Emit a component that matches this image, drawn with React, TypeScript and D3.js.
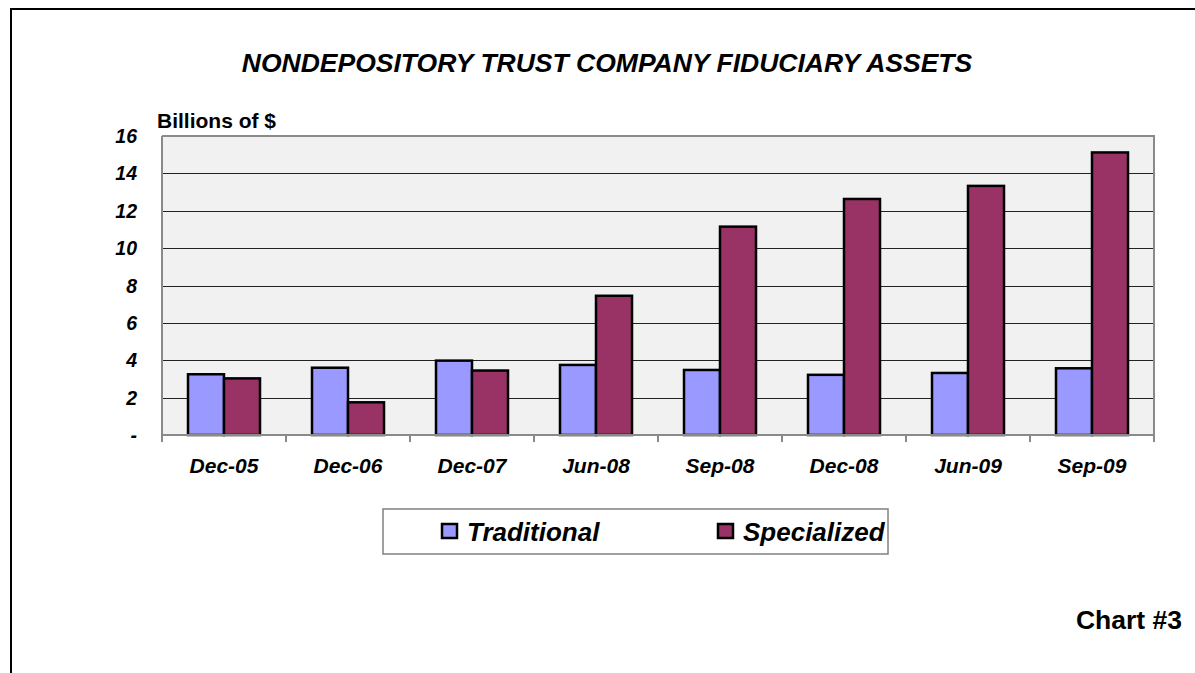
import React from "react";
import * as d3 from "d3";

const categories = ["Dec-05", "Dec-06", "Dec-07", "Jun-08", "Sep-08", "Dec-08", "Jun-09", "Sep-09"];
const traditional = [3.25, 3.6, 3.98, 3.75, 3.48, 3.22, 3.32, 3.57];
const specialized = [3.03, 1.75, 3.45, 7.45, 11.15, 12.63, 13.33, 15.12];
const yTicks = [0, 2, 4, 6, 8, 10, 12, 14, 16];
const seriesNames = ["Traditional", "Specialized"];
const colors = ["#9999FF", "#993366"];

const W = 1195;
const H = 673;
const plot = { left: 162, right: 1154, top: 136, bottom: 435 };
const font = "'Liberation Sans', Arial, sans-serif";

export default function App() {
  const x = d3.scaleBand<string>().domain(categories).range([plot.left, plot.right]).paddingInner(0).paddingOuter(0);
  const y = d3.scaleLinear().domain([0, 16]).range([plot.bottom, plot.top]);
  const barW = 36;
  const series = [traditional, specialized];

  return (
    <svg width={W} height={H} style={{ position: "absolute", left: 0, top: 0, background: "#fff" }} fontFamily={font}>
      <rect x={11} y={9} width={W + 20} height={H + 20} fill="#fff" stroke="#000" strokeWidth={2} />
      <text x={607} y={72} textAnchor="middle" fontSize={26.5} fontWeight="bold" fontStyle="italic">
        NONDEPOSITORY TRUST COMPANY FIDUCIARY ASSETS
      </text>
      <text x={157} y={128} fontSize={21} fontWeight="bold">Billions of $</text>
      <rect x={plot.left} y={plot.top} width={plot.right - plot.left} height={plot.bottom - plot.top} fill="#F1F1F1" />
      {yTicks.filter((t) => t > 0 && t < 16).map((t) => (
        <line key={t} x1={plot.left} x2={plot.right} y1={Math.round(y(t)) + 0.5} y2={Math.round(y(t)) + 0.5} stroke="#222" strokeWidth={1} />
      ))}
      <path
        d={`M${plot.left},${plot.top} H${plot.right} V${plot.bottom}`}
        fill="none"
        stroke="#8a8a8a"
        strokeWidth={2}
      />
      {yTicks.map((t) => (
        <text key={t} x={137} y={y(t) + 7} textAnchor="end" fontSize={19.5} fontWeight="bold" fontStyle="italic">
          {t === 0 ? "-" : String(t)}
        </text>
      ))}
      {categories.map((c, i) =>
        series.map((s, j) => (
          <rect
            key={c + j}
            x={(x(c) as number) + x.bandwidth() / 2 - barW + j * barW}
            y={y(s[i])}
            width={barW}
            height={plot.bottom - y(s[i])}
            fill={colors[j]}
            stroke="#000"
            strokeWidth={2.5}
          />
        ))
      )}
      <line x1={plot.left} x2={plot.left} y1={plot.top} y2={plot.bottom} stroke="#8a8a8a" strokeWidth={2} />
      <line x1={plot.left} x2={plot.right} y1={plot.bottom} y2={plot.bottom} stroke="#8a8a8a" strokeWidth={2} />
      {d3.range(categories.length + 1).map((k) => {
        const xx = plot.left + k * x.step();
        return <line key={k} x1={xx} x2={xx} y1={plot.bottom} y2={plot.bottom + 7} stroke="#8a8a8a" strokeWidth={2} />;
      })}
      {categories.map((c) => (
        <text key={c} x={(x(c) as number) + x.bandwidth() / 2} y={473} textAnchor="middle" fontSize={21} fontWeight="bold" fontStyle="italic">
          {c}
        </text>
      ))}
      <rect x={383} y={509} width={505} height={45} fill="#fff" stroke="#808080" strokeWidth={1.5} />
      {seriesNames.map((n, j) => {
        const lx = j === 0 ? 442 : 718;
        return (
          <g key={n}>
            <rect x={lx} y={524} width={15} height={14} fill={colors[j]} stroke="#000" strokeWidth={2.5} />
            <text x={lx + 25} y={541} fontSize={26} fontWeight="bold" fontStyle="italic">{n}</text>
          </g>
        );
      })}
      <text x={1182} y={629} textAnchor="end" fontSize={26.5} fontWeight="bold">Chart #3</text>
    </svg>
  );
}
